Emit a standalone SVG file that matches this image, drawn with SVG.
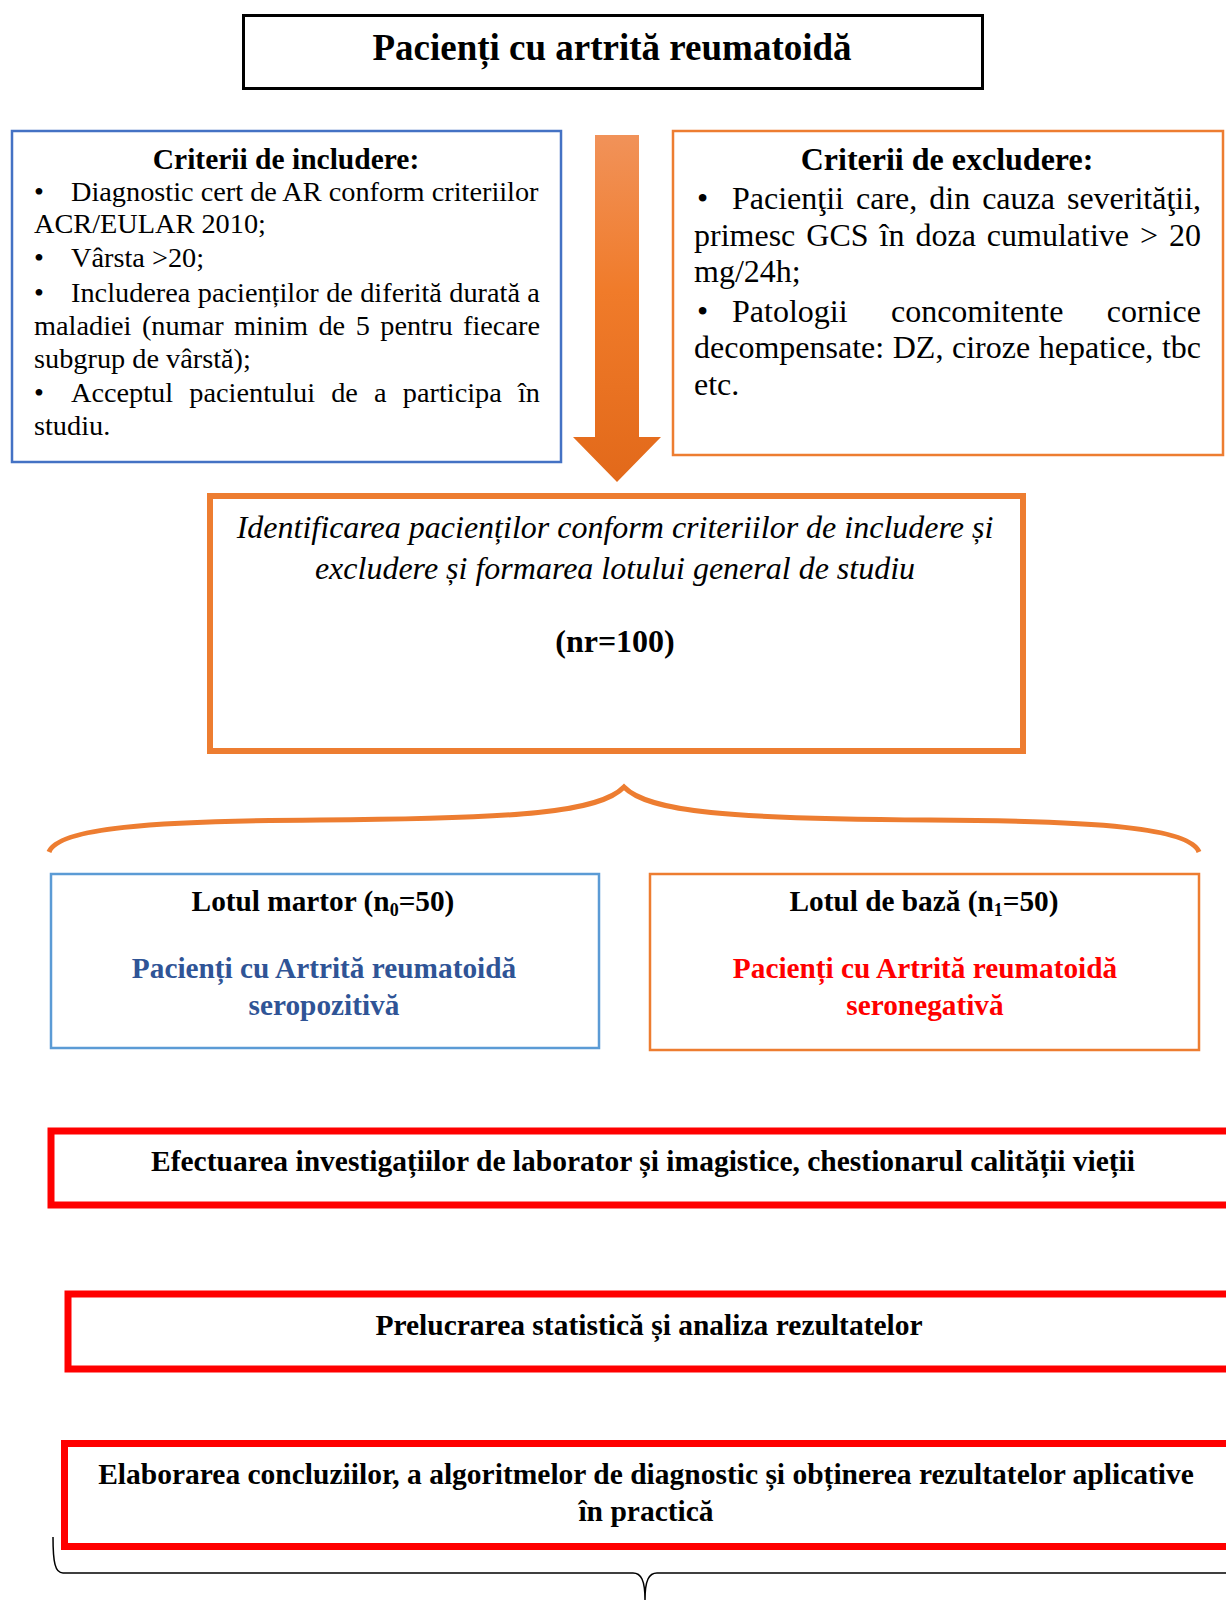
<svg xmlns="http://www.w3.org/2000/svg" width="1226" height="1600" viewBox="0 0 1226 1600">
<style>
text{font-family:"Liberation Serif","Times New Roman",serif;fill:#000}
.t{font-size:37px;font-weight:bold}
.h1{font-size:29.5px;font-weight:bold}
.h2{font-size:32px;font-weight:bold}
.inc{font-size:28.3px}
.exc{font-size:32px}
.it{font-size:32px;font-style:italic}
.nr{font-size:32px;font-weight:bold}
.mid{text-anchor:middle}
.lot{font-size:29.3px;font-weight:bold}
.step{font-size:29.5px;font-weight:bold}
.red{fill:none;stroke:#FF0000;stroke-width:7}
</style>
<defs>
<linearGradient id="ag" x1="0" y1="0" x2="0" y2="1">
<stop offset="0" stop-color="#F19259"/>
<stop offset="0.45" stop-color="#F07B2A"/>
<stop offset="1" stop-color="#E2691A"/>
</linearGradient>
</defs>
<rect width="1226" height="1600" fill="#fff"/>

<g id="title">
<rect x="243.5" y="15.5" width="739" height="73" fill="#fff" stroke="#000" stroke-width="3"/>
<text class="t mid" x="612" y="60">Pacienți cu artrită reumatoidă</text>
</g>

<g id="inclusion">
<rect x="12" y="131" width="549" height="331" fill="#fff" stroke="#4472C4" stroke-width="2.5"/>
<text class="h1 mid" x="286" y="169">Criterii de includere:</text>
<text class="inc" x="34" y="201">•</text>
<text class="inc" x="71" y="201" style="word-spacing:0px">Diagnostic cert de AR conform criteriilor</text>
<text class="inc" x="34" y="233">ACR/EULAR 2010;</text>
<text class="inc" x="34" y="267">•</text>
<text class="inc" x="71" y="267">Vârsta &gt;20;</text>
<text class="inc" x="34" y="302">•</text>
<text class="inc" x="71" y="302" style="word-spacing:0.3px">Includerea pacienților de diferită durată a</text>
<text class="inc" x="34" y="335" style="word-spacing:3.4px">maladiei (numar minim de 5 pentru fiecare</text>
<text class="inc" x="34" y="368">subgrup de vârstă);</text>
<text class="inc" x="34" y="402">•</text>
<text class="inc" x="71" y="402" style="word-spacing:9.1px">Acceptul pacientului de a participa în</text>
<text class="inc" x="34" y="435">studiu.</text>
</g>

<g id="exclusion">
<rect x="673" y="131" width="550" height="324" fill="#fff" stroke="#ED7D31" stroke-width="2.5"/>
<text class="h2 mid" x="947" y="170">Criterii de excludere:</text>
<text class="exc" x="697" y="209">•</text>
<text class="exc" x="732" y="209" style="word-spacing:4px">Pacienţii care, din cauza severităţii,</text>
<text class="exc" x="694" y="246" style="word-spacing:3px">primesc GCS în doza cumulative &gt; 20</text>
<text class="exc" x="694" y="282">mg/24h;</text>
<text class="exc" x="697" y="322">•</text>
<text class="exc" x="732" y="322" style="word-spacing:35.4px">Patologii concomitente cornice</text>
<text class="exc" x="694" y="358" style="word-spacing:0.6px">decompensate: DZ, ciroze hepatice, tbc</text>
<text class="exc" x="694" y="395">etc.</text>
</g>

<g id="connectors">
<path id="arrow" d="M595 135 H639 V437 H661 L617 482 L573 437 H595 Z" fill="url(#ag)"/>
<path id="brace" d="M49 852 C58 828 150 821 320 820 C520 819 600 812 624 787 C648 812 730 819 930 820 C1100 821 1190 828 1199 852" fill="none" stroke="#ED7D31" stroke-width="5"/>
<path id="bottom-brace" d="M53 1537 C53 1562 55 1573 63 1573 L633 1573 C641 1573 645 1580 645 1600 C645 1580 649 1573 657 1573 L1230 1573" fill="none" stroke="#000" stroke-width="1.5"/>
</g>

<g id="identification">
<rect x="210" y="496" width="813" height="255" fill="#fff" stroke="#ED7D31" stroke-width="6"/>
<text class="it mid" x="615" y="538">Identificarea pacienților conform criteriilor de includere și</text>
<text class="it mid" x="615" y="579">excludere și formarea lotului general de studiu</text>
<text class="nr mid" x="615" y="652">(nr=100)</text>
</g>

<g id="lot-martor">
<rect x="51" y="874" width="548" height="174" fill="#fff" stroke="#5B9BD5" stroke-width="2.5"/>
<text class="lot mid" x="323" y="911">Lotul martor (n<tspan font-size="18" dy="5">0</tspan><tspan dy="-5">=50)</tspan></text>
<text class="lot mid" x="324" y="978" style="fill:#2F5496">Pacienți cu Artrită reumatoidă</text>
<text class="lot mid" x="324" y="1015" style="fill:#2F5496">seropozitivă</text>
</g>

<g id="lot-baza">
<rect x="650" y="874" width="549" height="176" fill="#fff" stroke="#ED7D31" stroke-width="2.5"/>
<text class="lot mid" x="924" y="911">Lotul de bază (n<tspan font-size="18" dy="5">1</tspan><tspan dy="-5">=50)</tspan></text>
<text class="lot mid" x="925" y="978" style="fill:#FF0000">Pacienți cu Artrită reumatoidă</text>
<text class="lot mid" x="925" y="1015" style="fill:#FF0000">seronegativă</text>
</g>

<g id="step-investigatii">
<rect class="red" x="51" y="1131" width="1200" height="74"/>
<text class="step mid" x="643" y="1171">Efectuarea investigațiilor de laborator și imagistice, chestionarul calității vieții</text>
</g>

<g id="step-prelucrare">
<rect class="red" x="68" y="1294" width="1200" height="75"/>
<text class="step mid" x="649" y="1335">Prelucrarea statistică și analiza rezultatelor</text>
</g>

<g id="step-concluzii">
<rect class="red" x="64.5" y="1443.5" width="1200" height="103"/>
<text class="step mid" x="646" y="1484">Elaborarea concluziilor, a algoritmelor de diagnostic și obținerea rezultatelor aplicative</text>
<text class="step mid" x="646" y="1521">în practică</text>
</g>
</svg>
